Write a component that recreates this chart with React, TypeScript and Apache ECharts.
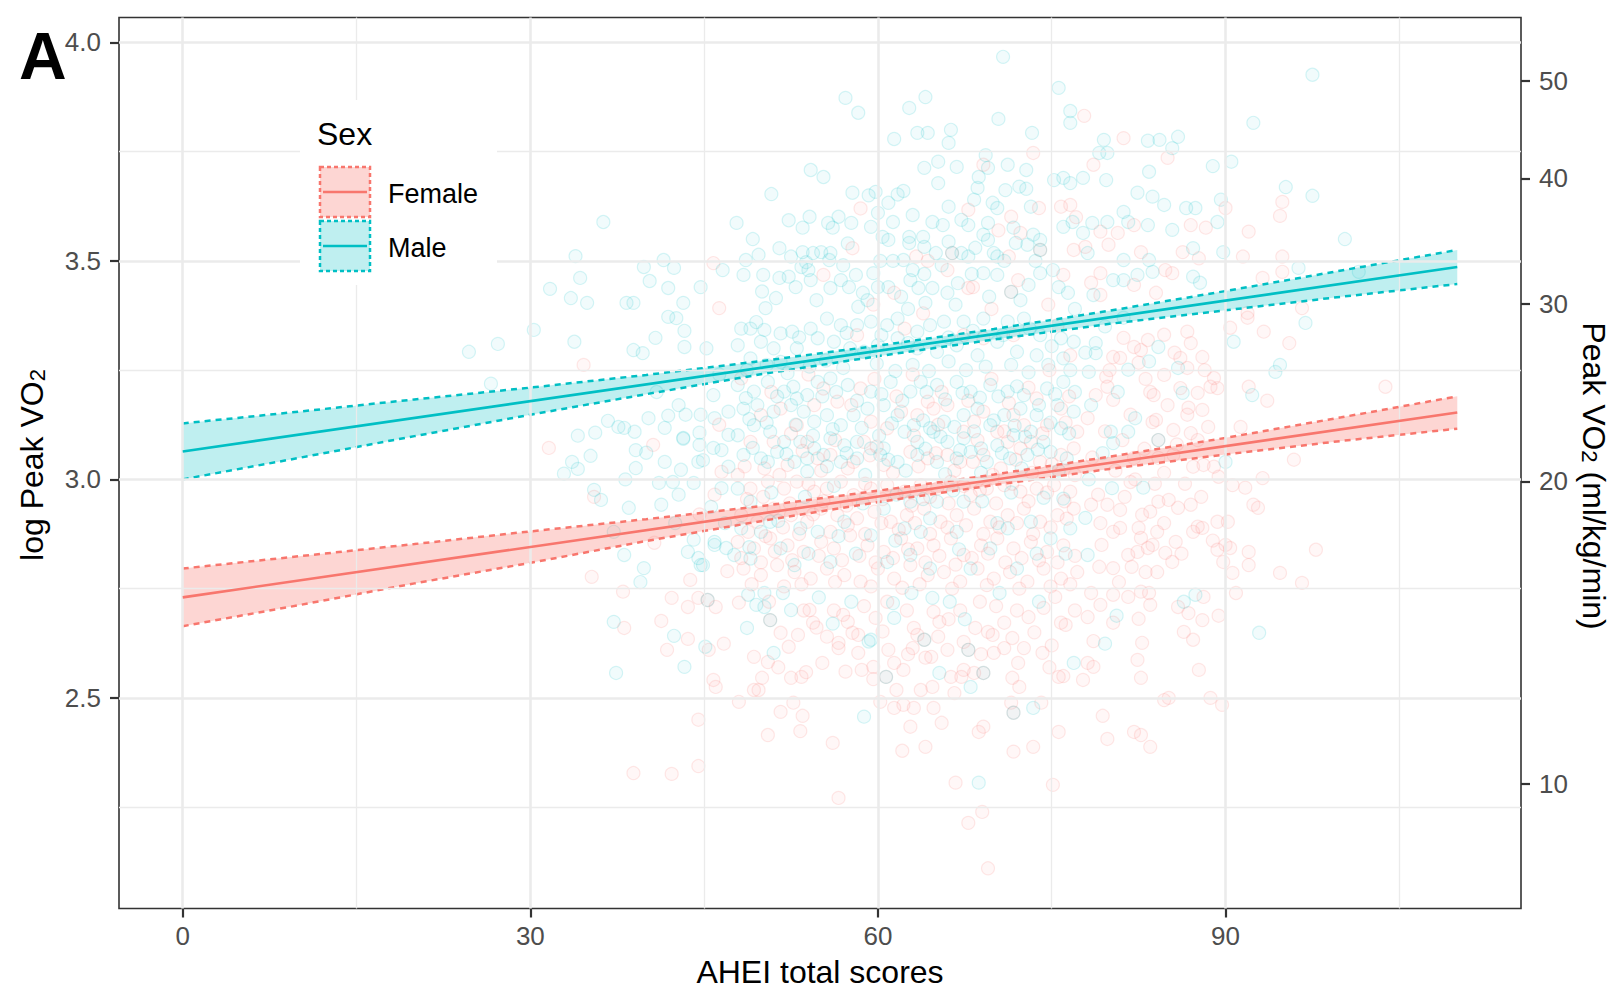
import React, { useEffect, useRef } from "react";
import * as echarts from "echarts";

const FONT = "'Liberation Sans', Arial, Helvetica, sans-serif";
const RED = "#F8766D";
const CYAN = "#00BFC4";

// axis ticks
const xTicks = [0, 30, 60, 90];
const xMinor = [15, 45, 75, 105];
const yTicks = [2.5, 3.0, 3.5, 4.0];
const yMinor = [2.25, 2.75, 3.25, 3.75];
const rightTicks = [10, 20, 30, 40, 50];

// regression fits
const fitX = [0, 110];
const femaleFit = [2.73, 3.153];
const maleFit = [3.064, 3.486];

// confidence band edges
const bandX = [0, 10, 20, 30, 40, 50, 60, 70, 80, 90, 100, 110];
const femaleHi = [2.796, 2.824, 2.852, 2.881, 2.909, 2.939, 2.974, 3.011, 3.052, 3.095, 3.142, 3.19];
const femaleLo = [2.664, 2.712, 2.762, 2.809, 2.859, 2.905, 2.948, 2.987, 3.024, 3.057, 3.088, 3.116];
const maleHi = [3.128, 3.155, 3.183, 3.21, 3.239, 3.271, 3.306, 3.344, 3.386, 3.431, 3.478, 3.525];
const maleLo = [3.0, 3.049, 3.099, 3.148, 3.195, 3.241, 3.282, 3.32, 3.356, 3.387, 3.418, 3.447];

// scatter points (AHEI, log peak VO2)
const malePoints = [
[36.3,3.589],[33.9,3.511],[34.3,3.461],[31.7,3.436],[33.5,3.415],[34.9,3.404],[38.3,3.404],[38.9,3.404],[39.8,3.486],[41.5,3.502],[42.4,3.484],[40.3,3.454],[41.9,3.438],[43.2,3.404],[44.7,3.44],[46.6,3.479],
[70.8,3.967],[57.2,3.873],[58.3,3.839],[62.7,3.85],[64.1,3.875],[61.4,3.779],[63.4,3.793],[64.3,3.793],[66.3,3.8],[66.1,3.77],[70.4,3.825],[73.3,3.793],[75.6,3.896],[76.6,3.843],[76.6,3.816],[54.2,3.708],[55.3,3.692],[50.8,3.653],[47.8,3.587],[57.8,3.656],[59.2,3.65],[59.8,3.658],[61.7,3.652],[62.2,3.66],[60.9,3.633],[61.3,3.589],[63,3.605],[64,3.713],[65.2,3.727],[65.2,3.678],[66.8,3.715],[69.3,3.742],[69.5,3.713],[68.7,3.692],[68.6,3.667],[68.3,3.64],[71.2,3.72],[72.8,3.708],[72.8,3.665],[72.2,3.67],[71,3.662],[69.9,3.633],[70.3,3.621],[73.2,3.624],[75.2,3.685],[76,3.69],[76.6,3.678],[76,3.578],[76.8,3.589],[66.1,3.624],[64.7,3.589],[65.6,3.582],[67.2,3.594],[67.8,3.582],[69.5,3.587],[71.7,3.576],[73.4,3.56],[74,3.548],[74,3.525],[72.9,3.537],[71.9,3.541],[70,3.518],[70.3,3.51],[69.1,3.56],[69.5,3.548],[66.1,3.544],[67.2,3.518],[67.8,3.51],[66.4,3.518],[65,3.518],[63.9,3.555],[64,3.532],[62.7,3.555],[62.7,3.541],[62.2,3.502],[60.9,3.548],[60,3.61],[60.4,3.555],[55.9,3.518],[55.8,3.502],[55.1,3.52],[54.4,3.518],[53.5,3.52],[53.8,3.497],[51.5,3.529],[52.3,3.593],[53.5,3.576],[54.1,3.601],[55.7,3.587],[56.1,3.576],[56.6,3.601],[57.7,3.587],[59.4,3.578],[49.7,3.514],[48.6,3.502],[48.4,3.468],[50.1,3.468],[51.5,3.461],[52.3,3.464],[53.4,3.486],[54,3.479],[54.2,3.456],[52.9,3.44],[51.2,3.415],[50.3,3.392],[55.9,3.438],[56.8,3.456],[57.5,3.44],[58.1,3.468],[58.7,3.427],[58.3,3.395],[59.6,3.472],[60,3.44],[60.9,3.44],[62,3.418],[62.8,3.456],[63,3.479],[63.5,3.438],[64.7,3.438],[64.1,3.404],[66.9,3.449],[69.1,3.472],[70.3,3.468],[69.6,3.418],[71.5,3.429],[73,3.445],[74,3.472],[75.1,3.479],[76.4,3.427],[66,3.427],
[97.5,3.926],[92.4,3.816],[79.5,3.777],[79.1,3.747],[79.8,3.747],[83.3,3.775],[84.3,3.777],[85.9,3.784],[85.4,3.758],[77.7,3.69],[79.7,3.685],[83.4,3.704],[82.4,3.656],[83.7,3.647],[84.7,3.628],[81.2,3.612],[81.6,3.589],[83.3,3.582],[79.8,3.589],[78.5,3.587],[77.7,3.564],[86.6,3.621],[87.4,3.621],[85.4,3.571],[88.9,3.717],[90.5,3.727],[89.6,3.64],[89.3,3.589],[95.2,3.669],[97.5,3.649],[100.3,3.55],[89.8,3.52],[87.2,3.529],[81.2,3.502],[83.4,3.502],[78.1,3.518],[80.3,3.456],[81.2,3.456],[82.4,3.468],[83.7,3.475],[87.2,3.464],[87.8,3.45],[96.3,3.484],[101.5,3.475],[78.6,3.422],
[30.3,3.342],[27.2,3.31],[24.7,3.292],[33.8,3.315],[38.9,3.296],[39.7,3.289],[40.8,3.324],[43.3,3.34],[43.3,3.303],[26.6,3.219],[36.7,3.134],[37.6,3.12],[38.1,3.118],[34.1,3.1],[35.6,3.107],[35.2,3.054],[33.6,3.04],[34.1,3.024],[32.9,3.013],[39.1,3.067],[40,3.061],[39.1,3.026],[40.2,3.14],[41.9,3.146],[41.6,3.04],[43.2,3.095],[44.6,3.107],[44.5,3.04],[35.5,2.976],[36.1,2.953],[38.5,2.935],[41.3,2.942],[42.8,2.965],[43.6,2.834],[38.1,2.827],[39.8,2.797],[39.5,2.765],[44.7,2.804],[45.9,2.857],[41.9,3.372],[42.6,3.369],[42.8,3.17],[43.4,3.148],[44.7,3.148],[45.9,3.14],[47.1,3.155],[45.8,3.193],[47.1,3.102],[44.6,3.079],[45.8,3.072],[44.9,3.044],[46.5,3.067],[43,3.022],[42.3,2.994],[41.1,2.992],[44.1,2.992],[46.5,2.98],[45.6,2.937],[47.1,3.029],[39,3.109],[41.6,3.118],[43.2,3.093],[44.1,2.862],[44.5,2.82],[45.9,2.85],[46.9,2.843],[44.9,2.804],
[40.9,3.2],[38.2,3.0],[42.5,2.9],[46.8,2.9],[37.2,2.88],[46.3,3.24],[45.2,3.3],
[48.2,3.345],[49,3.345],[50.2,3.342],[51.6,3.334],[52.6,3.338],[54.2,3.345],[55.6,3.368],[56.8,3.353],[58.2,3.353],[59.4,3.361],[60.8,3.353],[61.7,3.368],[63.4,3.338],[64.5,3.353],[65.7,3.361],[67.4,3.361],[69.1,3.368],[71.2,3.361],[72.6,3.368],[74,3.33],[75.8,3.323],[76.9,3.315],[47.9,3.307],[49.9,3.315],[51,3.3],[53,3.3],[54.8,3.323],[56.2,3.315],[57.6,3.3],[58.8,3.292],[60,3.307],[61.7,3.323],[63.4,3.3],[65.1,3.292],[66.8,3.307],[68.6,3.284],[70.3,3.315],[72,3.292],[73.7,3.284],[76,3.277],[49,3.277],[51.6,3.269],
[47.9,3.216],[49.3,3.201],[50.5,3.223],[51.9,3.201],[53,3.185],[53.9,3.193],[54.8,3.223],[55.9,3.231],[57.4,3.216],[59.4,3.201],[61.1,3.223],[62.8,3.201],[63.7,3.223],[65.1,3.216],[66.8,3.223],[68,3.201],[69.7,3.216],[71.2,3.201],[72.6,3.193],[74.6,3.208],[76,3.223],[48.4,3.162],[49.6,3.17],[51,3.155],[52.5,3.17],[53.6,3.155],[54.5,3.132],[55.6,3.147],[56.8,3.124],[57.9,3.147],[59.1,3.162],[60.5,3.17],[61.7,3.147],[63.1,3.124],[64.5,3.117],[65.7,3.132],[67.4,3.147],[68.6,3.162],[69.7,3.124],[70.9,3.147],[72.3,3.162],[73.7,3.147],[75.5,3.17],[76.9,3.155],[47.9,3.101],[49.3,3.124],[50.7,3.109],[51.9,3.086],[53.3,3.086],[54.5,3.071],[55.9,3.094],[57.1,3.078],[58.2,3.086],[59.4,3.071],[60.5,3.071],[62.3,3.109],[63.4,3.086],[64.8,3.109],[66,3.086],[67.4,3.094],[68.9,3.071],[70.3,3.078],[71.7,3.101],[73.2,3.109],[74.3,3.086],[75.8,3.117],[48.4,3.056],[49.9,3.048],[51.3,3.063],[52.8,3.04],[53.9,3.048],[55.3,3.056],[56.8,3.04],[58.2,3.048],[60.2,3.056],[61.7,3.04],[63.4,3.056],[65.1,3.04],[66.8,3.048],[68,3.063],[69.4,3.04],[71.4,3.048],[72.9,3.056],[74.9,3.063],[76.3,3.048],
[47.9,2.979],[49,2.949],[48.2,2.888],[49.9,2.88],[47.6,2.827],[49,2.819],[50.7,2.903],[51.6,2.842],[52.8,2.804],[53.3,2.888],[54.8,2.88],[55.9,2.811],[57.1,2.903],[59.4,2.872],[60.8,2.811],[62.3,2.888],[62.8,2.827],[64.5,2.911],[64.5,2.796],[66.8,2.88],[68,2.796],[69.7,2.842],[71.2,2.888],[72,2.796],[73.2,2.903],[74.9,2.865],[76,2.956],[76.6,2.888],[65.1,2.949],[67.4,2.949],[62.8,2.949],[60.5,2.933],
[49.5,3.36],[53.2,3.325],[57.3,3.335],[60.3,3.33],[62.6,3.312],[66.1,3.325],[68.2,3.34],[70.8,3.33],[73.1,3.345],[75,3.305],
[48.7,3.25],[50.4,3.262],[52.2,3.243],[54.1,3.258],[55.5,3.272],[57,3.255],[59.9,3.265],[61.5,3.248],[63,3.262],[64.4,3.248],[66.1,3.27],[67.6,3.25],[69.3,3.258],[71.5,3.262],[73,3.245],[74.7,3.262],[76.6,3.25],
[48.6,3.186],[51.3,3.19],[52.7,3.212],[55.2,3.19],[56.4,3.2],[58.2,3.18],[60.3,3.195],[62.1,3.18],[64.2,3.2],[65.8,3.183],[67.3,3.198],[68.8,3.187],[70.4,3.19],[72,3.213],[73.9,3.17],[75.3,3.195],[77,3.2],
[48.9,3.138],[50.4,3.13],[52.9,3.125],[54.4,3.1],[56.1,3.115],[58.6,3.118],[60.1,3.1],[61.2,3.128],[63.9,3.135],[65.4,3.098],[66.6,3.12],[68.3,3.11],[70,3.135],[71.8,3.123],[72.7,3.098],[74.9,3.13],[76.5,3.105],
[49.2,3.072],[50.5,3.04],[52.1,3.058],[53.9,3.018],[55.6,3.03],[57.3,3.06],[58.9,3.01],[60.9,3.045],[62.4,3.02],[64.1,3.07],[65.8,3.012],[67.1,3.067],[68.9,3.015],[70.7,3.06],[72.4,3.025],[73.8,3.068],[75.6,3.02],
[50.8,2.97],[53.7,2.96],[56.2,2.985],[58.7,2.945],[61.6,2.965],[63.9,2.955],[66.5,2.975],[69,2.95],[71.5,2.97],[74.3,2.958],
[48.9,2.845],[51.4,2.905],[54,2.83],[56.6,2.87],[58.1,2.83],[61.5,2.86],[63.7,2.88],[67,2.84],[70.3,2.9],[73.7,2.83],[76.2,2.83],
[78.4,3.17],[79.4,3.06],[80.7,3.2],[82.2,3.14],[83.4,3.27],[79.6,3.35],[81.2,3.37],[78.2,3.0],[80.2,2.98],[77.9,3.29],
[54.9,2.73],[57.7,2.72],[62.9,2.74],[66.2,2.72],[70.5,2.74],[73.9,2.72],[56.1,2.67],[67.5,2.68],
[50,3.43],[52.5,3.51],[54.7,3.41],[57,3.49],[59.1,3.41],[61.3,3.5],[62.6,3.39],[64,3.47],[65.5,3.49],[66.7,3.4],[68.1,3.47],[70.9,3.5],[72.3,3.41],[73.6,3.5],[75.6,3.44],[77,3.39],[49.2,3.55],[57.4,3.54],[60.2,3.5],[68.4,3.53],
[90.7,3.315],[96.9,3.358],[94.7,3.262],[94.3,3.246],[92.3,3.193],[86.3,3.198],[85.9,3.255],[90,3.04],[81.6,3.109],[80.1,3.109],[80.3,3.083],[82.9,2.981],[77.9,2.912],[78.1,2.827],[78.8,3.312],[78.8,3.289],[78.2,3.246],[84.2,3.303],[81.6,3.251],[84.2,3.09],
[37.2,2.674],[37.4,2.557],[42.4,2.642],[43.3,2.571],[45.1,2.617],[45.3,2.724],
[58.8,2.457],[68.7,2.306],[59.2,2.629],[64.7,2.729],[68,2.525],[76.9,2.58],[48.8,2.736],[50.2,2.74],[49.5,2.713],[50.2,2.708],[52.5,2.701],[51.8,2.74],[50.7,2.678],[48.7,2.66],[51,2.603],[61.4,2.683],[61.3,2.717],[65.3,2.557],[73.4,2.477],[59.4,2.633],[60.7,2.548],[64,2.633],[67.8,2.61],[69.1,2.557],[71.7,2.466],
[80.6,2.688],[79.6,2.624],[86.4,2.72],[87.4,2.736],[92.9,2.649]
];

const femalePoints = [
[45.8,3.495],[46.3,3.392],
[69.1,3.72],[67.8,3.617],[73.9,3.621],[75.8,3.624],[76.6,3.628],[71.5,3.601],[72.3,3.564],[74,3.525],[71.3,3.51],[66.4,3.518],[57.8,3.529],[63.3,3.51],[55.3,3.468],[61.4,3.427],[66,3.479],[67.8,3.438],[68.2,3.44],[71.5,3.429],[72.1,3.456],[76,3.468],[76.9,3.525],[73.4,3.747],
[59.6,3.4],[63.9,3.38],[69.8,3.39],[74.7,3.4],[64.3,3.5],[70.4,3.57],[58.5,3.62],[77.1,3.6],
[77.8,3.832],[81.2,3.781],[78.6,3.72],[85,3.736],[90,3.621],[94.9,3.635],[94.7,3.603],[92,3.567],[87,3.582],[88.3,3.576],[82.1,3.582],[80.7,3.564],[79.2,3.567],[77.9,3.532],[79.9,3.537],[82.7,3.52],[86.3,3.52],[87.7,3.506],[91.5,3.51],[94.9,3.51],[94.9,3.475],[93.2,3.461],[85.4,3.472],[84.8,3.479],[79.2,3.472],[78.4,3.45],[79.2,3.422],[82.1,3.445],[84,3.427],[96.6,3.392],[91.9,3.381],
[31.6,3.072],[34.6,3.262],[35.5,2.96],[35.3,2.777],[46.3,3.125],[46.5,3.017],[40.6,3.079],[40.7,2.855],[45.9,2.965],[44.6,2.92],[43.8,2.77],[47,2.79],[41.8,2.61],
[58.2,3.33],[62.3,3.345],[67.4,3.33],[69.1,3.323],[71.7,3.33],[75.5,3.353],[76.6,3.284],
[48.2,3.231],[49.9,3.147],[51.6,3.162],[54.5,3.17],[55.3,3.208],[56.5,3.178],[58.5,3.208],[59.4,3.132],[60.8,3.117],[62,3.155],[63.4,3.147],[64.3,3.178],[64.8,3.162],[66,3.17],[67.4,3.109],[68.3,3.132],[69.1,3.155],[70.3,3.109],[71.2,3.086],[71.7,3.147],[72.6,3.124],[73.2,3.086],[73.7,3.185],[74.6,3.124],[75.8,3.162],[77.2,3.109],[53,3.124],[53.9,3.086],[54.8,3.048],[55.9,3.056],[57.4,3.025],[58.8,3.086],[60.5,3.033],[62.8,3.063],[64.3,3.048],[66,3.056],[67.1,3.04],[69.1,3.056],[70.6,3.025],[72.3,3.071],[74,3.04],[75.8,3.056],[76.9,3.071],[51,3.086],[49,3.086],[52.2,3.033],[50.2,3.025],
[50.8,3.2],[54,3.24],[57.7,3.17],[59.7,3.23],[61.6,3.19],[63,3.24],[65.5,3.2],[67.8,3.18],[69.8,3.23],[71.3,3.175],[73,3.21],[74.8,3.25],[76.5,3.19],[56.3,3.09],[59.9,3.075],[63.1,3.1],[65.2,3.125],[68.6,3.09],[70.9,3.11],[74.2,3.105],[76.2,3.13],[52.5,3.105],
[48.5,3.03],[51.5,3.01],[53.5,3.065],[55.1,3.02],[57.9,3.04],[59.3,3.055],[61.3,3.015],[63.5,3.03],[65,3.06],[66.6,3.02],[68.2,3.04],[69.9,3.01],[71.9,3.045],[73.3,3.015],[75,3.035],[77,3.01],
[47.9,3.01],[49,2.979],[50.5,2.995],[51.9,2.979],[53,2.995],[54.5,2.972],[55.6,2.979],[56.8,2.995],[57.9,2.964],[59.4,2.979],[60.8,2.987],[62.3,2.972],[63.7,2.987],[65.1,2.979],[66.3,2.995],[68,2.964],[69.4,2.979],[70.9,2.987],[72.3,2.972],[73.7,2.979],[75.2,2.987],[76.6,2.972],
[48.7,2.955],[50.1,2.96],[52.4,2.945],[54,2.99],[55.3,2.95],[57.3,2.94],[58.9,2.99],[60.4,2.955],[62.9,2.94],[64.5,2.96],[66.1,2.945],[67.4,2.985],[68.8,2.975],[70.2,2.945],[71.6,2.99],[73,2.95],[74.6,2.97],[76.1,2.95],
[48.2,2.918],[49.6,2.903],[51,2.933],[52.5,2.918],[53.9,2.903],[55.1,2.933],[56.5,2.918],[58.2,2.911],[59.7,2.926],[61.1,2.903],[62.5,2.918],[64,2.933],[65.4,2.903],[66.8,2.918],[68.3,2.933],[69.7,2.903],[71.2,2.918],[72.6,2.933],[74,2.903],[75.5,2.918],[76.9,2.933],
[48.8,2.88],[50.3,2.87],[51.8,2.89],[53.2,2.875],[54.4,2.92],[55.9,2.88],[57.4,2.895],[58.9,2.875],[60.3,2.9],[61.8,2.885],[63.2,2.9],[64.5,2.875],[66,2.89],[67.6,2.895],[69.1,2.875],[70.5,2.89],[72,2.9],[73.4,2.875],[74.9,2.89],[76.3,2.91],
[47.9,2.857],[49.3,2.842],[50.7,2.865],[52.2,2.849],[53.6,2.834],[55.1,2.857],[56.2,2.842],[57.6,2.872],[59.1,2.849],[60.5,2.834],[62,2.865],[63.4,2.842],[64.8,2.849],[66.3,2.865],[67.4,2.827],[68.9,2.849],[70.3,2.865],[71.7,2.842],[73.2,2.857],[74.6,2.834],[76,2.849],
[48.2,2.82],[49.9,2.81],[51.1,2.835],[52.6,2.815],[54.9,2.825],[56.9,2.815],[58.4,2.825],[59.8,2.81],[61.3,2.82],[62.6,2.84],[64.1,2.81],[65.3,2.825],[66.7,2.805],[68.1,2.82],[69.5,2.83],[71,2.81],[72.4,2.82],[73.9,2.815],[75.5,2.81],[77,2.825],
[48.4,2.796],[49.9,2.781],[51.3,2.804],[52.8,2.788],[54.2,2.773],[55.6,2.796],[57.1,2.781],[58.5,2.766],[60,2.796],[61.4,2.773],[62.8,2.804],[64.3,2.781],[65.7,2.788],[67.1,2.766],[68.6,2.796],[70,2.773],[71.4,2.788],[72.9,2.766],[74.3,2.796],[75.8,2.773],[77.2,2.788],
[49.1,2.76],[51.9,2.755],[53.4,2.76],[56.3,2.765],[59.4,2.755],[62.1,2.752],[63.6,2.76],[66.4,2.75],[69.4,2.758],[72.2,2.75],[74.9,2.755],[76.6,2.76],
[86.7,3.338],[87,3.312],[88,3.28],[90.4,3.347],[91.9,3.37],[93.3,3.338],[95.5,3.312],[92,3.212],[93.6,3.18],[103.8,3.212],[91.3,3.12],[95.9,3.045],[93.2,3.003],[91.7,2.981],[90.6,2.987],[92.4,2.942],[92.8,2.935],[90.2,2.903],[89.3,2.903],[90,2.85],[90.4,2.843],[89.3,2.839],[92,2.834],[92,2.804],[97.8,2.839],[94.7,2.786],[96.6,2.763],[89.8,2.811],[90.6,2.786],
[89,3.232],[88.7,3.212],[89.3,3.209],[88,3.159],[86.8,3.164],[86.7,3.148],[87.6,3.198],[86.1,3.209],[86.7,3.255],[86.1,3.278],[84.7,3.239],[83.8,3.193],[83.5,3.2],[84,3.136],[85.5,3.113],[87,3.106],[87.6,3.09],[88.1,3.033],[89,3.029],[89.4,3.006],[87.2,3.029],[85.5,3.056],[84.2,3.09],[83.7,3.131],[81.8,3.148],[81.1,3.09],[82.1,3.049],[84.2,3.049],[81.8,2.994],[84.7,3.015],[85.1,2.953],[84.2,2.949],[83.5,2.926],[82.8,2.919],[82.5,2.889],[84.1,2.88],[83.7,2.85],[85.9,2.935],[87,2.942],[87.6,2.892],[88,2.889],[87.2,2.88],[85.7,2.857],[84.8,2.832],[83.3,2.843],[82.4,2.834],[81.6,2.827],[80.9,2.889],[80.3,2.88],[79.8,2.942],[79,2.965],[78.4,2.942],[79.1,2.8],[80.3,2.797],[80.8,2.765],[84.1,2.788],[83.1,2.788],[85.4,2.811],[82.7,2.866],[81.2,3.324],[82.1,3.303],[82.7,3.296],[80.3,3.28],[80.9,3.278],[84.7,3.331],[83.3,3.319],[82.5,3.267],[79.7,3.235],[78.8,3.193],[79.8,3.212],[80.3,3.182],
[78.5,3.05],[79.6,3.11],[80.5,3.02],[81.3,2.96],[82.2,3.0],[83,3.07],[83.9,2.99],[85,3.17],[85.8,3.08],[86.5,2.99],[87.9,2.96],[88.5,3.12],[79.3,2.85],[80.9,2.93],[81.9,2.8],[86.2,2.83],[88.9,2.86],[78.1,3.14],[80,3.25],[83.1,3.23],[85.6,3.29],[88.2,3.25],[79.2,2.9],[84.7,2.9],
[38,2.743],[38.1,2.66],[41.3,2.676],[42.2,2.729],[43.6,2.708],[44.5,2.729],[46,2.708],[43.6,2.635],[45.4,2.61],[46.7,2.624],[45.8,2.541],[46,2.525],[44.5,2.45],[38.9,2.328],[42.2,2.326],[44.5,2.344],[45.3,2.724],
[48,2.491],[51.6,2.468],[52.7,2.489],[53.5,2.459],[50.5,2.415],[53.3,2.424],[56.1,2.397],[56.6,2.271],[60.2,2.491],[61.4,2.477],[62.2,2.484],[63.1,2.477],[64.8,2.477],[62.8,2.434],[65.5,2.443],[62.1,2.379],[64.1,2.388],[68.7,2.422],[69.1,2.434],[71.7,2.377],[73.4,2.388],[71.7,2.466],[71.5,2.489],[74.1,2.489],[75.6,2.422],[66.7,2.306],[75.1,2.301],[69,2.239],[67.8,2.214],[69.5,2.11],
[48,2.718],[49.3,2.594],[50.5,2.582],[50,2.546],[49.3,2.518],[49.7,2.518],[51.6,2.649],[52.3,2.617],[53.1,2.644],[54.1,2.701],[54.4,2.672],[54.7,2.661],[52.5,2.546],[53.4,2.548],[53.8,2.559],[57,2.69],[57.4,2.674],[57.8,2.649],[58.3,2.644],[56.6,2.626],[56.6,2.614],[58.3,2.603],[58.6,2.564],[59.6,2.571],[59.6,2.543],[59.8,2.683],[60.4,2.652],[60.7,2.548],[61.4,2.58],[62.2,2.564],[61.6,2.518],[63.7,2.518],[64.7,2.525],[63,2.614],[63.4,2.644],[64,2.633],[64.1,2.592],[64.6,2.594],[65.2,2.64],[65.3,2.674],[64.8,2.697],[66,2.61],[66.3,2.548],[66.6,2.511],[67.4,2.628],[67.8,2.61],[67.2,2.548],[67.4,2.564],[68.3,2.557],[69.1,2.557],[68.4,2.66],[69.5,2.651],[69.9,2.644],[70,2.603],[70.9,2.672],[70.9,2.614],[71.6,2.637],[71.6,2.546],[72.2,2.525],[72.6,2.614],[73,2.685],[74.2,2.603],[74.3,2.706],[75.8,2.672],[76.2,2.667],[75.6,2.548],[76,2.55],[75.3,2.731],[50.7,2.678],
[50.6,2.72],[53.6,2.7],[55.6,2.64],[56.2,2.7],[58.8,2.71],[60.8,2.72],[62.5,2.7],[63.1,2.66],[66.1,2.68],[67.1,2.7],[68.8,2.72],[70.2,2.71],[72,2.7],[73.5,2.65],[75,2.62],[77,2.7],[55.2,2.58],[57.2,2.56],[60.9,2.61],[62.6,2.6],[68.9,2.6],[72.1,2.58],[74.8,2.57],[51.4,2.57],
[78.4,2.74],[79.2,2.713],[78.1,2.685],[80.3,2.736],[81.6,2.731],[82.7,2.743],[83.4,2.74],[83.5,2.713],[80.3,2.672],[82.5,2.681],[78.6,2.63],[82.8,2.626],[78.1,2.58],[78.6,2.571],[77.7,2.541],[82.4,2.587],[82.7,2.546],[85.9,2.708],[86.8,2.694],[88,2.678],[88.1,2.731],[89.4,2.688],[90.9,2.74],[86.4,2.651],[87.2,2.633],[87.7,2.564],[84.7,2.495],[85.1,2.5],[88.7,2.5],[89.7,2.484],[79.4,2.459],[79.8,2.406],[82.1,2.422],[82.7,2.415],[83.5,2.388]
];

const mkLine = (v: number, axis: "xAxis" | "yAxis", major: boolean) => ({
  [axis]: v,
  lineStyle: { color: "#EBEBEB", width: major ? 2.6 : 1.3, type: "solid" },
});

function bandSeries(name: string, hi: number[], lo: number[], color: string) {
  return {
    name,
    type: "custom",
    z: 3,
    silent: true,
    data: [[bandX[0], hi[0]]],
    renderItem: (params: any, api: any) => {
      if (params.dataIndex !== 0) return null;
      const up = bandX.map((x, i) => api.coord([x, hi[i]]));
      const dn = bandX.map((x, i) => api.coord([x, lo[i]])).reverse();
      return {
        type: "polygon",
        shape: { points: up.concat(dn) },
        style: { fill: color, stroke: "none" },
      };
    },
  };
}

function edgeSeries(vals: number[], color: string) {
  return {
    type: "line",
    z: 4,
    silent: true,
    showSymbol: false,
    symbol: "none",
    data: bandX.map((x, i) => [x, vals[i]]),
    lineStyle: { color, width: 2.5, type: [6, 5] },
  };
}

function fitSeries(vals: number[], color: string) {
  return {
    type: "line",
    z: 5,
    silent: true,
    showSymbol: false,
    symbol: "none",
    data: fitX.map((x, i) => [x, vals[i]]),
    lineStyle: { color, width: 2.6 },
  };
}

const tickStyle = { color: "#333333", width: 2.2 };
const labelBase = { fontSize: 26, color: "#4D4D4D", fontFamily: FONT };

const option: any = {
  animation: false,
  backgroundColor: "#ffffff",
  grid: {
    left: 119,
    top: 17.5,
    width: 1402,
    height: 891,
    show: true,
    borderColor: "#333333",
    borderWidth: 1.6,
    backgroundColor: "#ffffff",
  },
  xAxis: {
    type: "value",
    min: -5.5,
    max: 115.5,
    position: "bottom",
    splitLine: { show: false },
    axisLine: { show: false, onZero: false },
    axisTick: { show: true, customValues: xTicks, length: 9, lineStyle: tickStyle },
    axisLabel: { ...labelBase, customValues: xTicks, margin: 14 },
  },
  yAxis: [
    {
      type: "value",
      min: 2.018,
      max: 4.057,
      position: "left",
      splitLine: { show: false },
      axisLine: { show: false, onZero: false },
      axisTick: { show: true, customValues: yTicks, length: 9, lineStyle: tickStyle },
      axisLabel: { ...labelBase, customValues: yTicks, margin: 18, formatter: (v: number) => v.toFixed(1) },
    },
    {
      type: "value",
      min: 2.018,
      max: 4.057,
      position: "right",
      splitLine: { show: false },
      axisLine: { show: false, onZero: false },
      axisTick: { show: true, customValues: rightTicks.map(Math.log), length: 9, lineStyle: tickStyle },
      axisLabel: {
        ...labelBase,
        customValues: rightTicks.map(Math.log),
        margin: 18,
        formatter: (v: number) => String(Math.round(Math.exp(v))),
      },
    },
  ],
  series: [
    {
      type: "line",
      z: 1,
      silent: true,
      data: [],
      markLine: {
        silent: true,
        symbol: "none",
        animation: false,
        label: { show: false },
        data: [
          ...xMinor.map((v) => mkLine(v, "xAxis", false)),
          ...yMinor.map((v) => mkLine(v, "yAxis", false)),
          ...xTicks.map((v) => mkLine(v, "xAxis", true)),
          ...yTicks.map((v) => mkLine(v, "yAxis", true)),
        ],
      },
    },
    {
      name: "Female",
      type: "scatter",
      z: 2,
      silent: true,
      symbol: "circle",
      symbolSize: 13,
      data: femalePoints,
      itemStyle: { color: "rgba(248,118,109,0.07)", borderColor: "rgba(248,118,109,0.2)", borderWidth: 1.2 },
    },
    {
      name: "Male",
      type: "scatter",
      z: 2,
      silent: true,
      symbol: "circle",
      symbolSize: 13,
      data: malePoints,
      itemStyle: { color: "rgba(0,191,196,0.07)", borderColor: "rgba(0,191,196,0.2)", borderWidth: 1.2 },
    },
    bandSeries("Female band", femaleHi, femaleLo, "rgba(248,118,109,0.3)"),
    bandSeries("Male band", maleHi, maleLo, "rgba(0,191,196,0.25)"),
    edgeSeries(femaleHi, RED),
    edgeSeries(femaleLo, RED),
    edgeSeries(maleHi, CYAN),
    edgeSeries(maleLo, CYAN),
    fitSeries(femaleFit, RED),
    fitSeries(maleFit, CYAN),
  ],
  graphic: [
    {
      type: "text",
      x: 19,
      y: 56,
      style: { text: "A", fontSize: 66, fontWeight: "bold", fontFamily: FONT, fill: "#000", align: "left", verticalAlign: "middle" },
    },
    { type: "rect", x: 300, y: 100, shape: { width: 197, height: 185 }, style: { fill: "#ffffff" }, z: 10 },
    {
      type: "text", x: 317, y: 134, z: 11,
      style: { text: "Sex", fontSize: 32, fontFamily: FONT, fill: "#000", align: "left", verticalAlign: "middle" },
    },
    {
      type: "rect", x: 320, y: 167, z: 11,
      shape: { width: 50, height: 50 },
      style: { fill: "rgba(248,118,109,0.3)", stroke: RED, lineWidth: 2.5, lineDash: [4, 3] },
    },
    { type: "line", z: 12, shape: { x1: 323, y1: 192, x2: 367, y2: 192 }, style: { stroke: RED, lineWidth: 2.5 } },
    {
      type: "rect", x: 320, y: 221, z: 11,
      shape: { width: 50, height: 50 },
      style: { fill: "rgba(0,191,196,0.25)", stroke: CYAN, lineWidth: 2.5, lineDash: [4, 3] },
    },
    { type: "line", z: 12, shape: { x1: 323, y1: 246, x2: 367, y2: 246 }, style: { stroke: CYAN, lineWidth: 2.5 } },
    {
      type: "text", x: 388, y: 194, z: 11,
      style: { text: "Female", fontSize: 27, fontFamily: FONT, fill: "#000", align: "left", verticalAlign: "middle" },
    },
    {
      type: "text", x: 388, y: 248, z: 11,
      style: { text: "Male", fontSize: 27, fontFamily: FONT, fill: "#000", align: "left", verticalAlign: "middle" },
    },
    {
      type: "text", x: 820, y: 972,
      style: { text: "AHEI total scores", fontSize: 32, fontFamily: FONT, fill: "#000", align: "center", verticalAlign: "middle" },
    },
    {
      type: "text", x: 32, y: 465, rotation: Math.PI / 2,
      style: {
        text: "{n|log Peak VO}{s|2}",
        fontFamily: FONT, fill: "#000", align: "center", verticalAlign: "middle",
        rich: {
          n: { fontSize: 32, lineHeight: 32, fontFamily: FONT, fill: "#000" },
          s: { fontSize: 22, lineHeight: 16, verticalAlign: "bottom", fontFamily: FONT, fill: "#000" },
        },
      },
    },
    {
      type: "text", x: 1594, y: 476, rotation: -Math.PI / 2,
      style: {
        text: "{n|Peak VO}{s|2}{n| (ml/kg/min)}",
        fontFamily: FONT, fill: "#000", align: "center", verticalAlign: "middle",
        rich: {
          n: { fontSize: 32, lineHeight: 32, fontFamily: FONT, fill: "#000" },
          s: { fontSize: 22, lineHeight: 16, verticalAlign: "bottom", fontFamily: FONT, fill: "#000" },
        },
      },
    },
  ],
};

export default function App() {
  const ref = useRef<HTMLDivElement>(null);
  useEffect(() => {
    if (!ref.current) return;
    const chart = echarts.init(ref.current, undefined, { renderer: "svg" });
    chart.setOption(option);
    return () => chart.dispose();
  }, []);
  return (
    <div
      ref={ref}
      style={{ position: "fixed", left: 0, top: 0, width: 1613, height: 992, background: "#ffffff" }}
    />
  );
}
